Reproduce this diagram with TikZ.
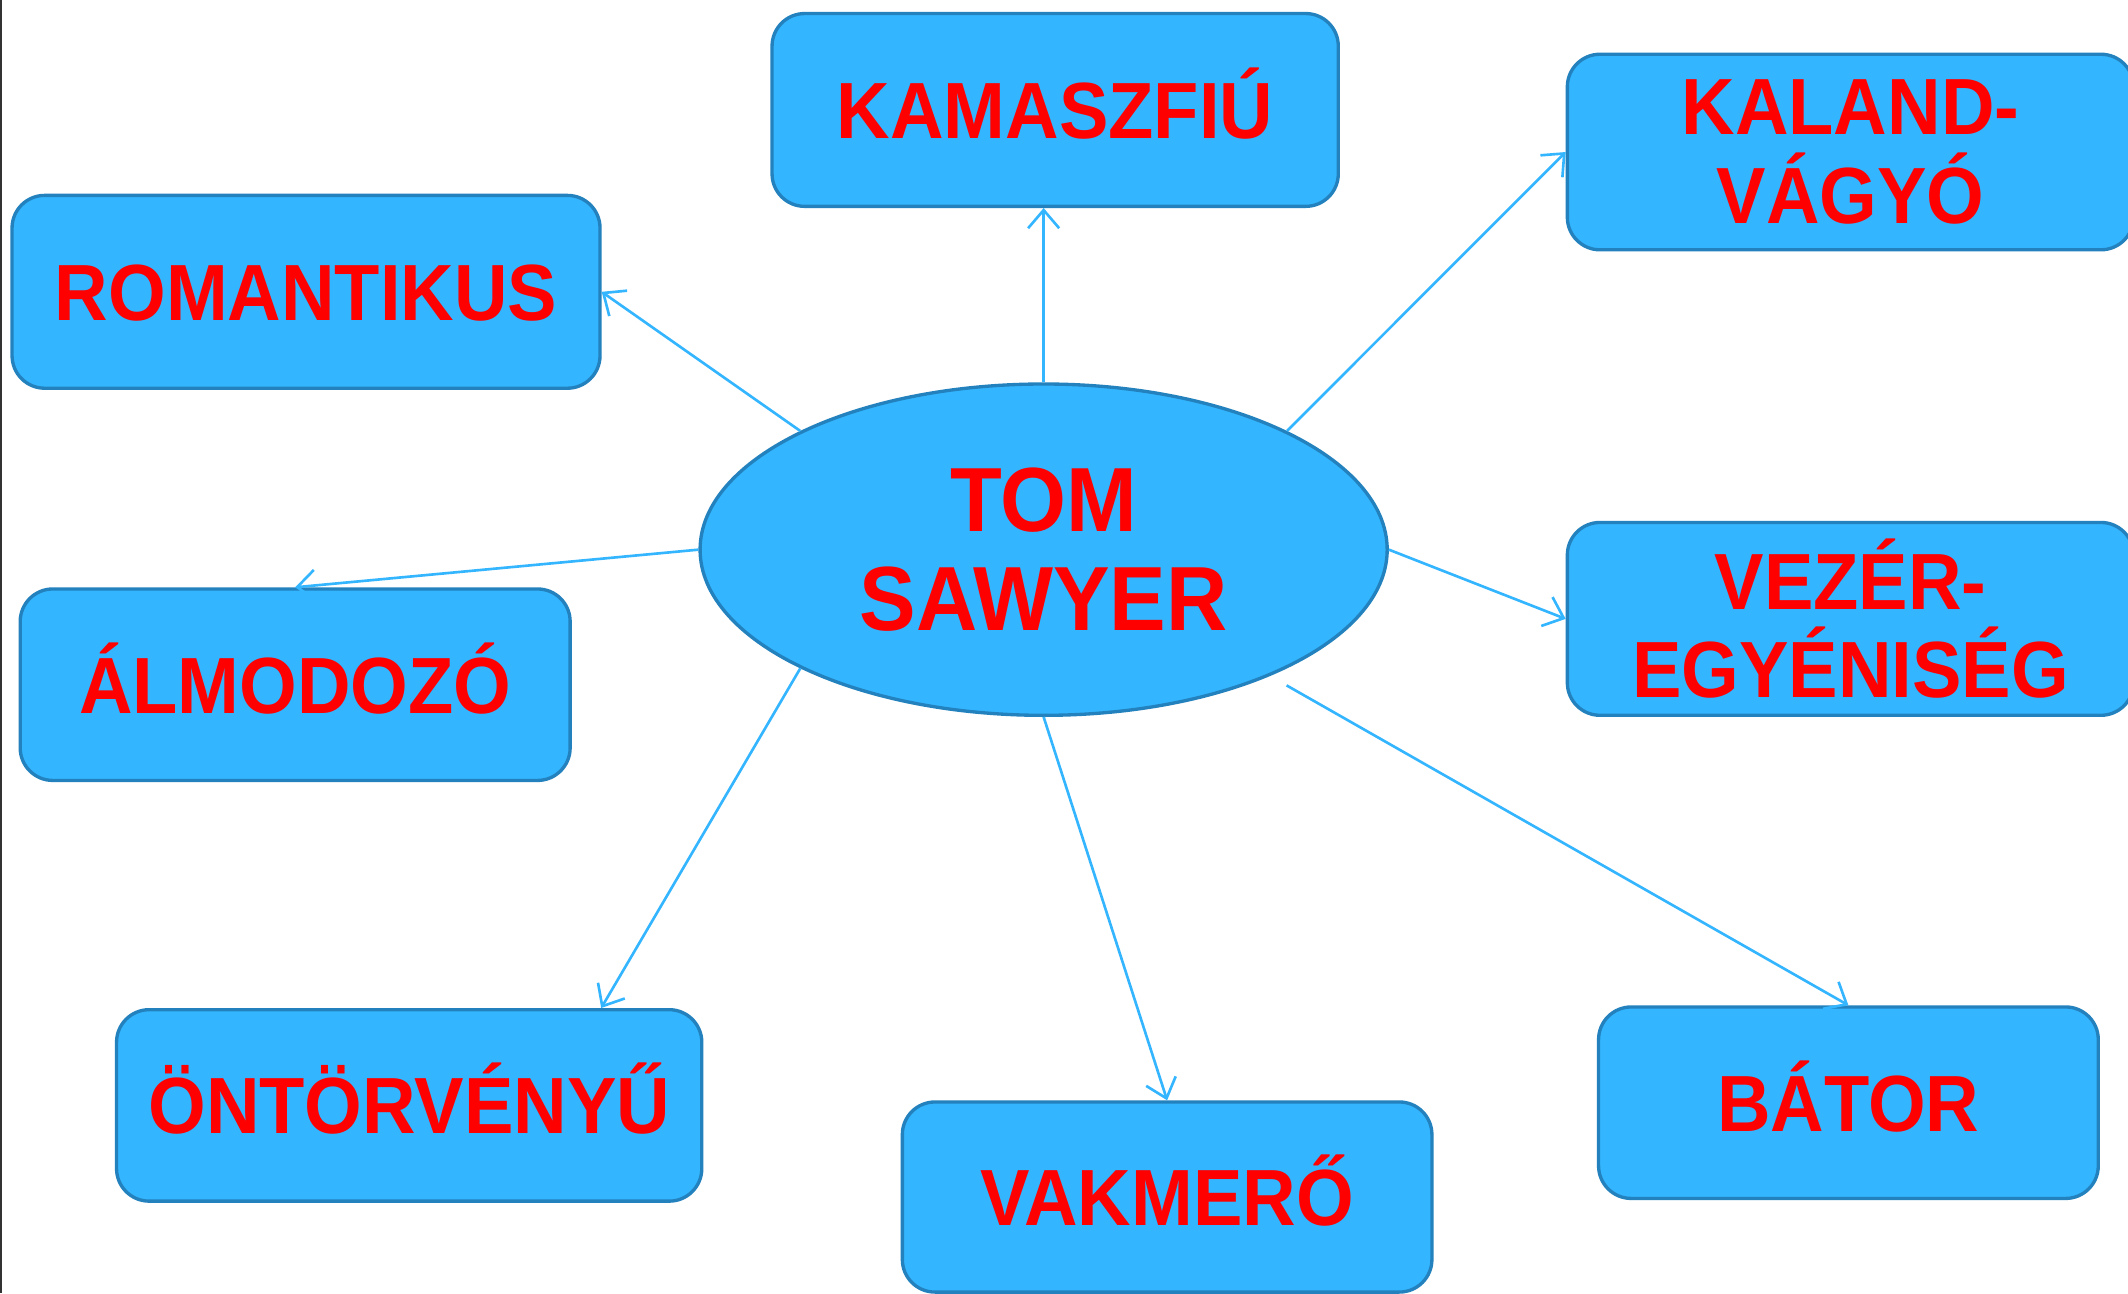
\documentclass[tikz,border=0pt]{standalone}
\usepackage{fontspec}
\setmainfont{Liberation Sans}[FakeStretch=0.93]
\usetikzlibrary{arrows.meta,shapes.geometric,calc}
\definecolor{boxfill}{RGB}{51,181,255}
\definecolor{boxline}{RGB}{35,130,190}
\definecolor{linkc}{RGB}{51,181,255}
\definecolor{txt}{RGB}{255,0,0}
\begin{document}
\begin{tikzpicture}[x=0.01cm,y=-0.01cm,
 box/.style={draw=boxline,fill=boxfill,line width=0.7pt,rounded corners=0.24cm,inner sep=0pt,align=center,text=txt,
   font=\fontsize{16.7}{18.5}\selectfont\bfseries},
 oneline/.style={text height=0.42cm,text depth=0pt},
 hub/.style={ellipse,draw=boxline,fill=boxfill,line width=0.7pt,inner sep=0pt,align=center,text=txt,
   minimum width=5.06cm,minimum height=2.44cm,font=\fontsize{19.1}{20.8}\selectfont\bfseries},
 link/.style={draw=linkc,line width=0.55pt,-{Straight Barb[length=3.8pt,width=6.5pt]}}]
\clip (0,0) rectangle (1568,953);
\fill[white] (0,0) rectangle (1568,953);
\draw[black!80,line width=0.5pt] (0.8,0) -- (0.8,953);

\node[hub] (tom) at (769,405) {TOM\\SAWYER};
\node[box,oneline,minimum width=4.17cm,minimum height=1.42cm] (kam) at (777.5,81) {KAMASZFIÚ};
\node[box,oneline,minimum width=4.33cm,minimum height=1.42cm] (rom) at (225.5,215) {ROMANTIKUS};
\node[box,minimum width=4.17cm,minimum height=1.44cm] (kal) at (1363.5,112) {KALAND-\\VÁGYÓ};
\node[box,minimum width=4.17cm,minimum height=1.42cm] (vez) at (1363.5,456) {VEZÉR-\\EGYÉNISÉG};
\node[box,oneline,minimum width=4.05cm,minimum height=1.41cm] (alm) at (217.5,504.5) {ÁLMODOZÓ};
\node[box,oneline,minimum width=4.31cm,minimum height=1.41cm] (ont) at (301.5,814.5) {ÖNTÖRVÉNYŰ};
\node[box,oneline,minimum width=3.90cm,minimum height=1.40cm] (vak) at (860,882) {VAKMERŐ};
\node[box,oneline,minimum width=3.68cm,minimum height=1.41cm] (bat) at (1362,812.5) {BÁTOR};

\coordinate (bs) at (948,505);

\draw[link] (tom.north) -- (tom.north |- kam.south);
\draw[link] (tom.154) -- (rom.east);
\draw[link] (tom.26) -- (kal.west);
\draw[link] (tom.east) -- (vez.west);
\draw[link] (tom.west) -- (alm.north);
\draw[link] (tom.206) -- ($(ont.north)+(141.5,0)$);
\draw[link] (tom.south) -- (vak.north);
\draw[link] (bs) -- (bat.north);
\end{tikzpicture}
\end{document}
